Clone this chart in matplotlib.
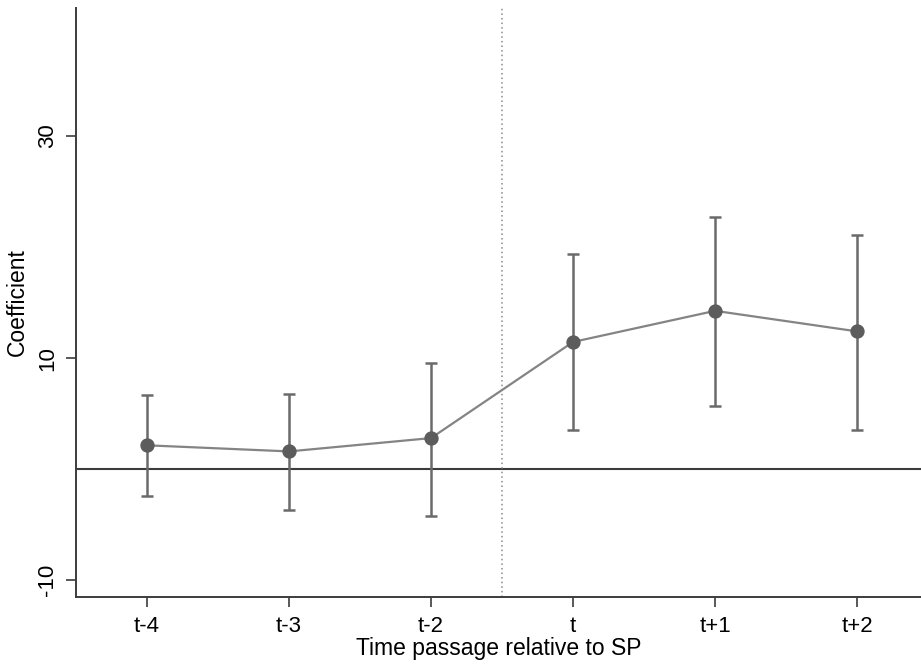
import matplotlib
matplotlib.use("Agg")
import matplotlib.pyplot as plt

plt.rcParams["font.family"] = ["Liberation Sans", "DejaVu Sans"]

periods = ["t-4", "t-3", "t-2", "t", "t+1", "t+2"]
coef = [2.15, 1.6, 2.8, 11.45, 14.25, 12.4]
ci_low = [-2.45, -3.65, -4.25, 3.5, 5.7, 3.55]
ci_high = [6.65, 6.8, 9.6, 19.4, 22.7, 21.1]

x = list(range(len(periods)))
err_lo = [c - lo for c, lo in zip(coef, ci_low)]
err_hi = [hi - c for c, hi in zip(coef, ci_high)]

fig = plt.figure(figsize=(9.21, 6.66), dpi=100)
ax = fig.add_axes([76 / 921, 1 - 597 / 666, 1 - 76 / 921, (597 - 8) / 666])

ax.axhline(0, color="#3c3c3c", lw=1.5, zorder=1)
ax.axvline(2.5, color="#8a8a8a", lw=1.1, ls=(0, (1, 2)), zorder=1)

ax.errorbar(x, coef, yerr=[err_lo, err_hi], fmt="none", ecolor="#6a6a6a",
            elinewidth=1.8, capsize=4.3, capthick=1.8, zorder=2)
ax.plot(x, coef, color="#848484", lw=1.6, zorder=3)
ax.plot(x, coef, "o", color="#5c5c5c", ms=9.3, zorder=4)

ax.set_xlim(-0.5, 5.45)
ax.set_ylim(-11.5, 41.5)
ax.set_xticks(x)
ax.set_xticklabels(periods)
ax.set_yticks([-10, 10, 30])
ax.set_yticklabels(["-10", "10", "30"], rotation=90, va="center")

for s in ["top", "right"]:
    ax.spines[s].set_visible(False)
for s in ["left", "bottom"]:
    ax.spines[s].set_color("#3c3c3c")
    ax.spines[s].set_linewidth(1.4)

ax.tick_params(axis="both", labelsize=16, length=7, width=1.2, color="#3c3c3c")
ax.tick_params(axis="x", pad=7)
ax.tick_params(axis="y", pad=6)
ax.set_xlabel("Time passage relative to SP", fontsize=16.5, labelpad=0)
ax.set_ylabel("Coefficient", fontsize=16.5, labelpad=6)

fig.savefig("out.png", dpi=100)
